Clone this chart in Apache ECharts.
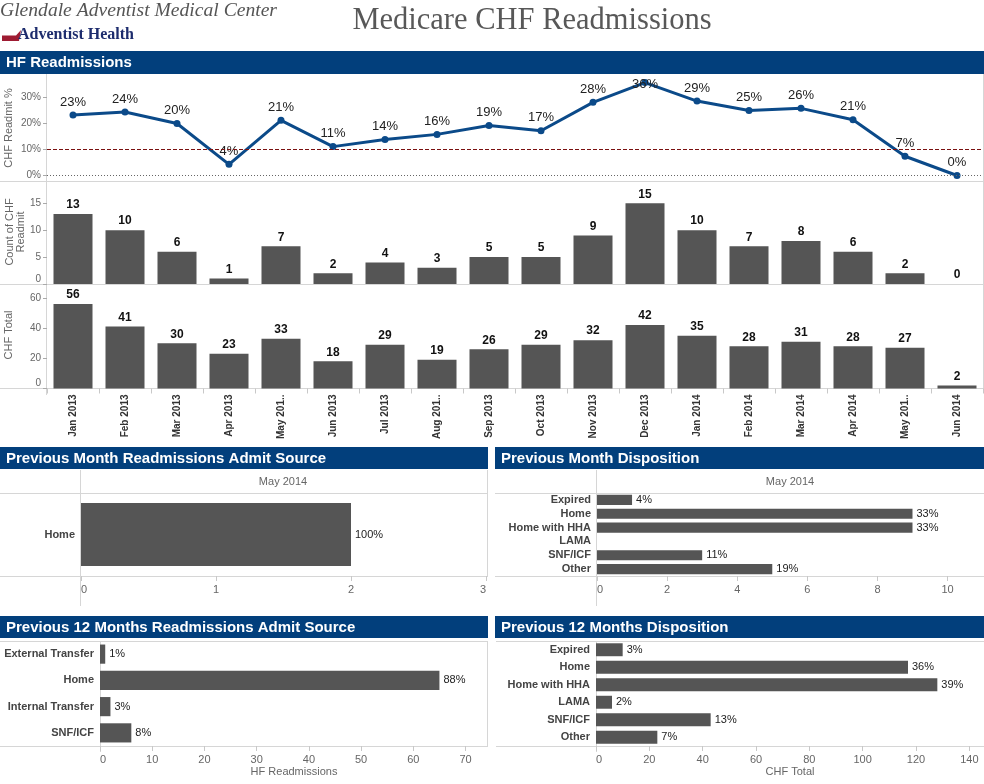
<!DOCTYPE html>
<html><head><meta charset="utf-8">
<script src="https://cdn.jsdelivr.net/npm/echarts@6/dist/echarts.min.js"></script>
<style>html,body{margin:0;padding:0;background:#fff}#c{width:984px;height:784px}</style>
</head><body><div id="c"></div>
<script>
// ---------- data ----------
const months = ['Jan 2013','Feb 2013','Mar 2013','Apr 2013','May 201..','Jun 2013','Jul 2013','Aug 201..','Sep 2013','Oct 2013','Nov 2013','Dec 2013','Jan 2014','Feb 2014','Mar 2014','Apr 2014','May 201..','Jun 2014'];
const readmitPct = [23.2,24.4,20.0,4.3,21.2,11.1,13.8,15.8,19.2,17.2,28.1,35.7,28.6,25.0,25.8,21.4,7.4,0];
const readmitCount = [13,10,6,1,7,2,4,3,5,5,9,15,10,7,8,6,2,0];
const chfTotal = [56,41,30,23,33,18,29,19,26,29,32,42,35,28,31,28,27,2];
const targetPct = 10;

const pmSourceCats = ['Home'];
const pmSourceVals = [2];
const pmSourcePct = [100];

const dispCats = ['Expired','Home','Home with HHA','LAMA','SNF/ICF','Other'];
const pmDispVals = [1,9,9,0,3,5];
const pmDispPct = [4,33,33,null,11,19];

const yrSourceCats = ['External Transfer','Home','Internal Transfer','SNF/ICF'];
const yrSourceVals = [1,65,2,6];
const yrSourcePct = [1,88,3,8];

const yrDispVals = [10,117,128,6,43,23];
const yrDispPct = [3,36,39,2,13,7];

// ---------- styling ----------
const FONT = '"Liberation Sans", Arial, sans-serif';
const BAR = '#555555';
const LINE = '#0b4a89';
const HEAD = '#023f7c';
const GRIDLINE = '#d6d6d6';

const chart = echarts.init(document.getElementById('c'), null, {renderer:'canvas'});

function topX(gi, showLabels){
  return {type:'category', gridIndex:gi, data:months, boundaryGap:true,
    axisLine:{show:false},
    axisTick:{show:showLabels, length:5, lineStyle:{color:'#c8c8c8'}},
    axisLabel:{show:showLabels, rotate:90, fontSize:10, fontWeight:'bold', color:'#333', margin:6, interval:0}};
}
function topY(gi, max, interval, fmt, minBottom){
  const lab = {fontSize:10, color:'#666', margin:6, showMaxLabel:false, formatter:fmt};
  if (minBottom) lab.verticalAlignMinLabel = 'bottom';
  return {type:'value', gridIndex:gi, min:0, max:max, interval:interval,
    splitLine:{show:false}, axisLine:{show:false},
    axisTick:{show:true, length:4, lineStyle:{color:'#aaa'}}, axisLabel:lab};
}
function botX(gi, max, interval, showMax){
  return {type:'value', gridIndex:gi, min:0, max:max, interval:interval,
    splitLine:{show:false}, axisLine:{show:false},
    axisTick:{show:true, length:5, lineStyle:{color:'#c8c8c8'}},
    axisLabel:{fontSize:11, color:'#666', margin:8, showMaxLabel:showMax,
      alignMinLabel:'left', alignMaxLabel:'right'}};
}
function botY(gi, cats){
  return {type:'category', gridIndex:gi, data:cats, inverse:true,
    axisLine:{show:false}, axisTick:{show:false},
    axisLabel:{fontSize:11, fontWeight:'bold', color:'#444', margin:6, interval:0}};
}
function hbar(gi, vals, pct, gap){
  return {type:'bar', xAxisIndex:gi, yAxisIndex:gi, data:vals, barCategoryGap:gap,
    itemStyle:{color:BAR}, silent:true,
    label:{show:true, position:'right', distance:4, fontSize:11, color:'#222',
      formatter:p => pct[p.dataIndex]==null ? '' : pct[p.dataIndex] + '%'}};
}

// ---------- decorations ----------
const G = [];
function hl(y, x1, x2){ G.push({type:'line', silent:true, shape:{x1:x1,y1:y,x2:x2,y2:y}, style:{stroke:GRIDLINE, lineWidth:1}}); }
function vl(x, y1, y2){ G.push({type:'line', silent:true, shape:{x1:x,y1:y1,x2:x,y2:y2}, style:{stroke:GRIDLINE, lineWidth:1}}); }
function txt(t, x, y, o){ G.push(Object.assign({type:'text', silent:true, x:x, y:y,
  style:Object.assign({text:t, fill:'#666', font:'11px '+FONT, align:'left', verticalAlign:'middle'}, o && o.style)}, o && o.el)); }
function header(t, x, y, w, h){
  G.push({type:'rect', silent:true, shape:{x:x,y:y,width:w,height:h}, style:{fill:HEAD}});
  txt(t, x+6, y+h/2+0.5, {style:{fill:'#fff', font:'bold 15px '+FONT}});
}

// logo + title
txt('Glendale Adventist Medical Center', 0, 10.5, {style:{fill:'#555', font:'italic 19.6px "Liberation Serif", serif'}});
G.push({type:'polygon', silent:true, shape:{points:[[2,35.5],[16,35.5],[21,30],[19,41],[2,41]]}, style:{fill:'#9e1b32'}});
txt('Adventist Health', 18, 35, {style:{fill:'#1d2c6d', font:'bold 16px "Liberation Serif", serif'}});
txt('Medicare CHF Readmissions', 532, 21, {style:{fill:'#585858', font:'30.5px "Liberation Serif", serif', align:'center'}});

// top section
header('HF Readmissions', 0, 51, 984, 23);
hl(181.5, 0, 984); hl(284.5, 0, 984); hl(388.5, 0, 984);
vl(46.5, 74, 395); vl(983.5, 74, 388.5);
txt('CHF Readmit %', 9, 128, {el:{rotation:Math.PI/2}, style:{align:'center'}});
txt('Count of CHF', 10, 232, {el:{rotation:Math.PI/2}, style:{align:'center'}});
txt('Readmit', 21, 232, {el:{rotation:Math.PI/2}, style:{align:'center'}});
txt('CHF Total', 9, 335, {el:{rotation:Math.PI/2}, style:{align:'center'}});

// previous month
header('Previous Month Readmissions Admit Source', 0, 447, 488, 22);
header('Previous Month Disposition', 495, 447, 489, 22);
hl(493.5, 0, 488); hl(576.5, 0, 488); vl(80.5, 470, 606); vl(487.5, 470, 576.5);
hl(493.5, 495, 984); hl(576.5, 495, 984); vl(596.5, 470, 606);
txt('May 2014', 283, 482, {style:{align:'center'}});
txt('May 2014', 790, 482, {style:{align:'center'}});

// previous 12 months
header('Previous 12 Months Readmissions Admit Source', 0, 616, 488, 22);
header('Previous 12 Months Disposition', 495, 616, 489, 22);
hl(641.5, 0, 488); hl(746.5, 0, 488); vl(100.5, 641, 752); vl(487.5, 641, 746.5);
hl(641.5, 496, 984); hl(746.5, 496, 984); vl(596.5, 641, 752);
txt('HF Readmissions', 294, 772, {style:{align:'center'}});
txt('CHF Total', 790, 772, {style:{align:'center'}});

const option = {
  animation:false,
  backgroundColor:'#fff',
  textStyle:{fontFamily:FONT},
  grid:[
    {left:47, top:74, width:936, height:101.5},
    {left:47, top:181.7, width:936, height:102.3},
    {left:47, top:284.3, width:936, height:104.2},
    {left:81, top:493, width:405, height:83},
    {left:597, top:493, width:387, height:83},
    {left:100, top:641, width:388, height:105},
    {left:596, top:641, width:388, height:105}
  ],
  xAxis:[
    topX(0,false), topX(1,false), topX(2,true),
    botX(3, 3, 1, true),
    botX(4, 11.04, 2, false),
    botX(5, 74.3, 10, false),
    botX(6, 145.5, 20, false)
  ],
  yAxis:[
    topY(0, 39, 10, v => v + '%', false),
    topY(1, 19, 5, null, true),
    topY(2, 69, 20, null, true),
    botY(3, pmSourceCats), botY(4, dispCats), botY(5, yrSourceCats), botY(6, dispCats)
  ],
  series:[
    {type:'line', xAxisIndex:0, yAxisIndex:0, data:readmitPct, clip:false,
      symbol:'circle', symbolSize:7, lineStyle:{color:LINE, width:3}, itemStyle:{color:LINE},
      label:{show:true, position:'top', distance:3, fontSize:13, color:'#222',
        formatter:p => Math.round(p.value) + '%'},
      labelLayout: function(params){
        const r = params.labelRect;
        if (r.y < 78) return {dy: 78 - r.y};
        return {};
      },
      markLine:{silent:true, symbol:'none', label:{show:false},
        data:[
          {yAxis:targetPct, lineStyle:{color:'#7a1010', type:[4,2], width:1}},
          {yAxis:0, lineStyle:{color:'#666', type:[1,2], width:1}}
        ]}},
    {type:'bar', xAxisIndex:1, yAxisIndex:1, data:readmitCount, barCategoryGap:'25%',
      itemStyle:{color:BAR}, label:{show:true, position:'top', distance:3, fontSize:12, fontWeight:'bold', color:'#111'}},
    {type:'bar', xAxisIndex:2, yAxisIndex:2, data:chfTotal, barCategoryGap:'25%',
      itemStyle:{color:BAR}, label:{show:true, position:'top', distance:3, fontSize:12, fontWeight:'bold', color:'#111'}},
    hbar(3, pmSourceVals, pmSourcePct, '24%'),
    hbar(4, pmDispVals, pmDispPct, '27%'),
    hbar(5, yrSourceVals, yrSourcePct, '27%'),
    hbar(6, yrDispVals, yrDispPct, '26%')
  ],
  graphic:{elements:G}
};
chart.setOption(option);
</script>
</body></html>
